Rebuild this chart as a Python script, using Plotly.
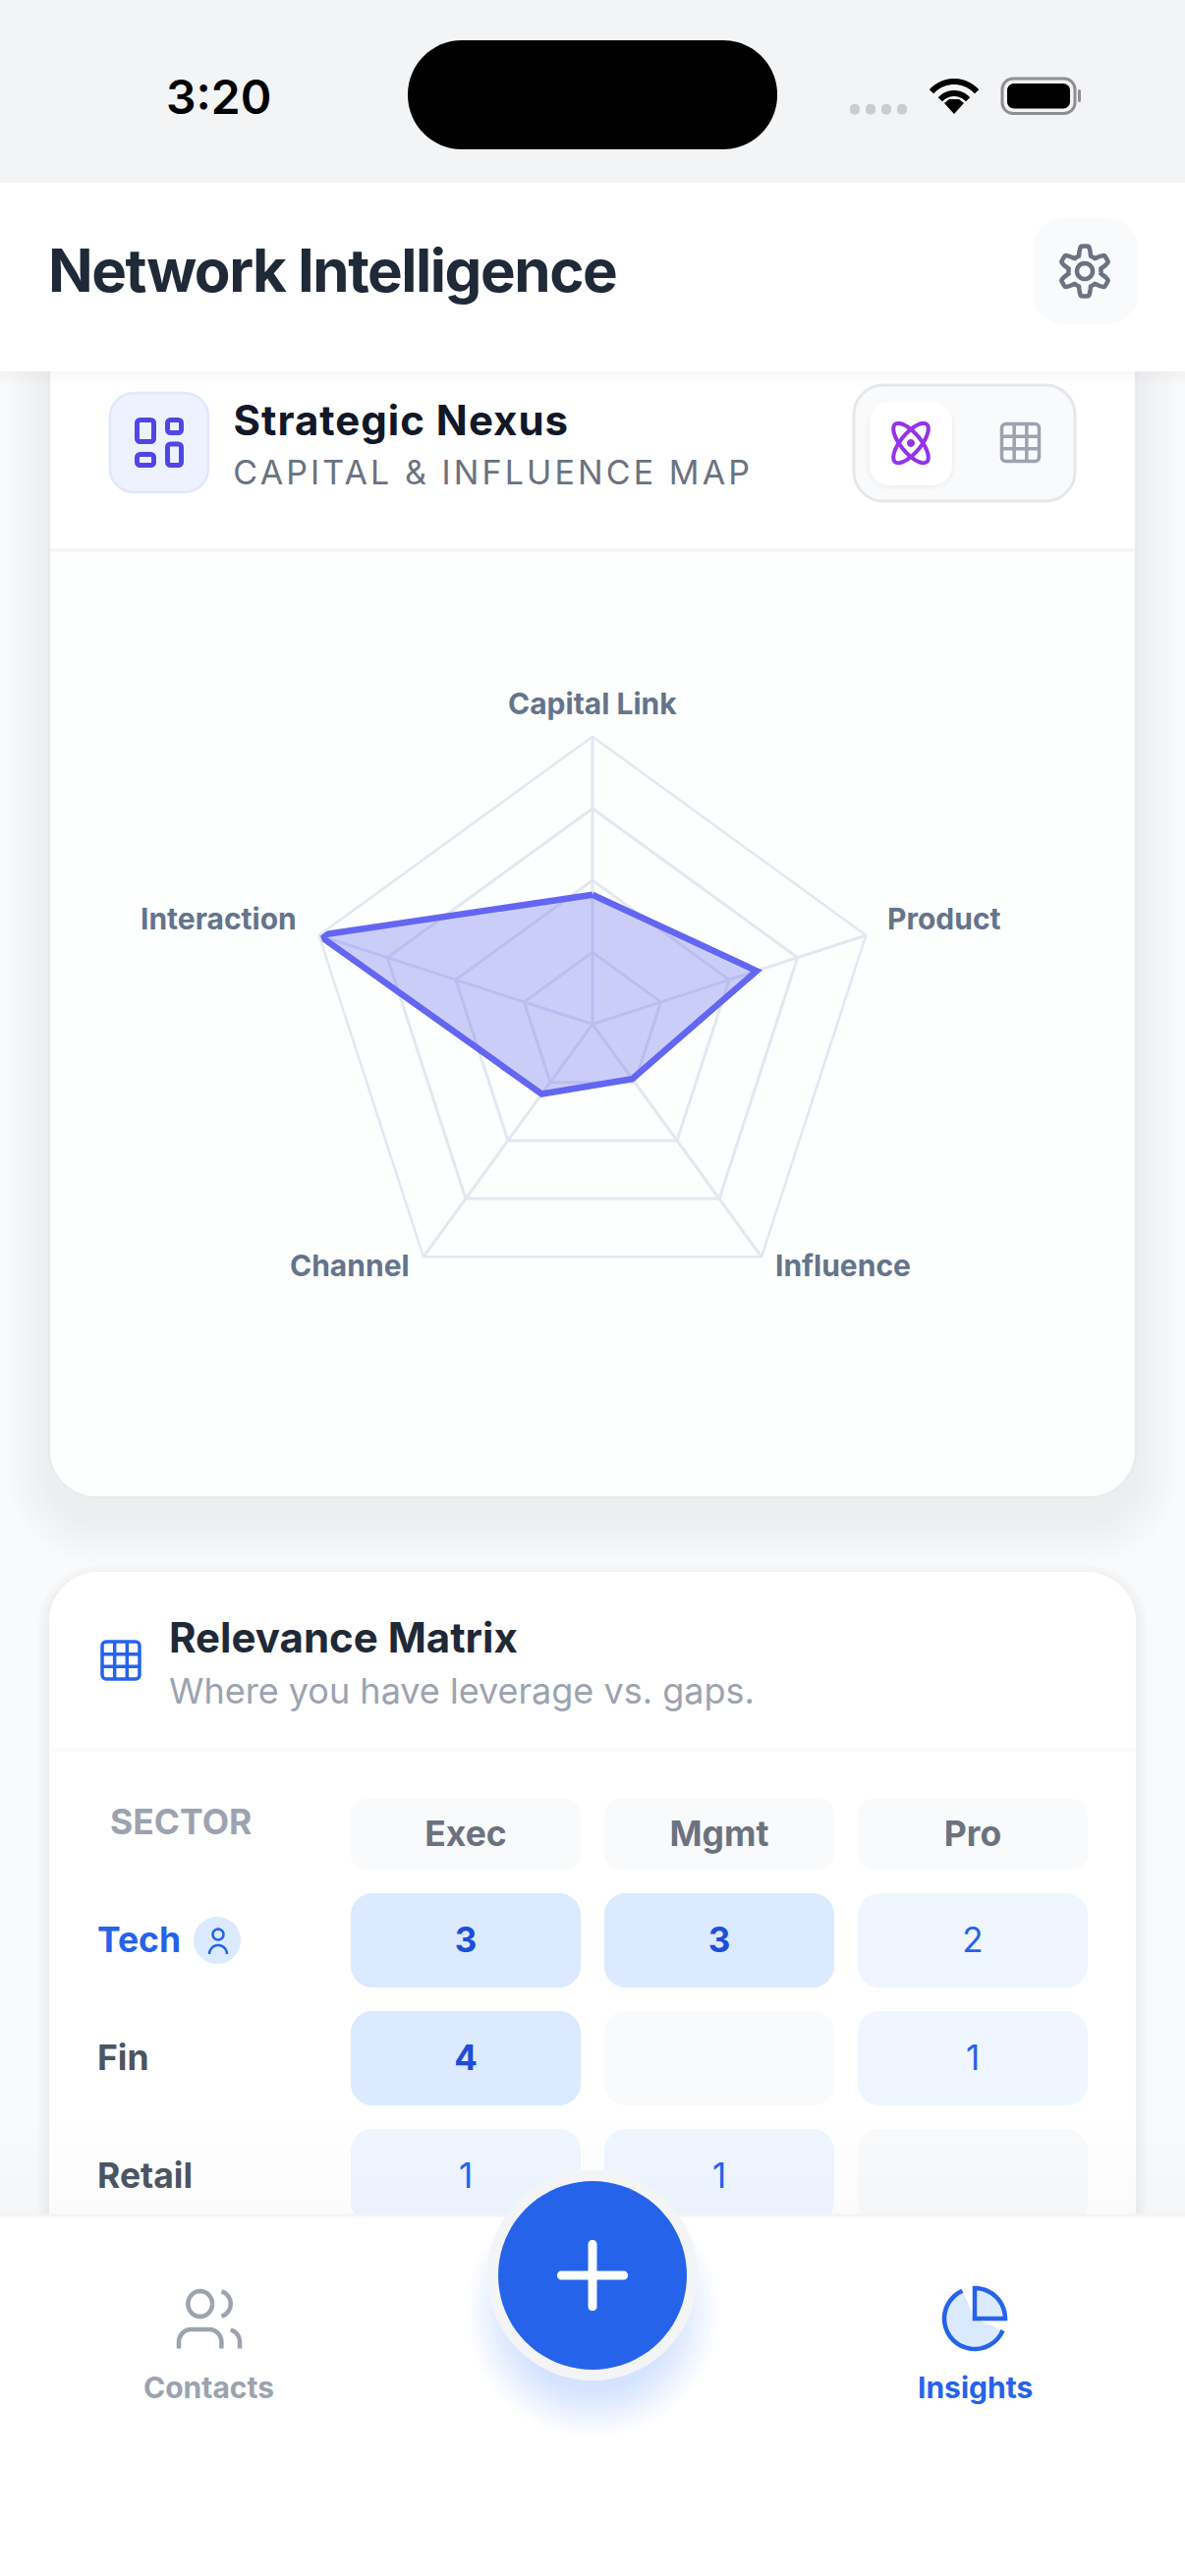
from __future__ import annotations

import json
import math

import plotly.graph_objects as go

WIDTH = 1206
HEIGHT = 2622
FONT = "Inter"

# radar values (outer ring = 100)
RADAR_AXES = ["Capital Link", "Product", "Influence", "Channel", "Interaction"]
RADAR_VALUES = [45, 60, 23.5, 30, 100]
RADAR_TICKS = [25, 50, 75, 100]

# relevance matrix
MATRIX_COLS = ["Exec", "Mgmt", "Pro"]
MATRIX_ROWS = ["Tech", "Fin", "Retail"]
TECH_COUNTS = [3, 3, 2]
FIN_COUNTS = [4, None, 1]
RETAIL_COUNTS = [1, 1, None]

# pixel mapping of the radar and the matrix axes
RADAR_CX, RADAR_CY, RADAR_R = 603, 1042.5, 292.7
COL0_X, COL_PITCH = 474, 258
ROW0_Y, ROW_PITCH = 1975, 120
HEADER_ROW = -0.9
TEXT_NUDGE = 3 / ROW_PITCH

# where each radar label sits relative to its outer vertex
RADAR_LABEL_OFFSETS = [(0, -34, "center"), (20, -17, "left"), (12, 9, "left"), (-12, 9, "right"), (-21, -17, "right")]

# plotly fonts have no tracking, applied in px to the finished svg text below
LETTER_SPACING = {
    "Network Intelligence": -1.5,
    "Strategic Nexus": 1,
    "CAPITAL & INFLUENCE MAP": 3.1,
}

shapes = []
annotations = []


def rrect(x0, y0, x1, y1, r):
    k = r * 0.45
    return (
        f"M{x0 + r},{y0} L{x1 - r},{y0} C{x1 - k},{y0} {x1},{y0 + k} {x1},{y0 + r} "
        f"L{x1},{y1 - r} C{x1},{y1 - k} {x1 - k},{y1} {x1 - r},{y1} "
        f"L{x0 + r},{y1} C{x0 + k},{y1} {x0},{y1 - k} {x0},{y1 - r} "
        f"L{x0},{y0 + r} C{x0},{y0 + k} {x0 + k},{y0} {x0 + r},{y0} Z"
    )


def poly(points, close=False):
    path = "M" + " L".join(f"{x:.2f},{y:.2f}" for x, y in points)
    return path + " Z" if close else path


def arc(cx, cy, r, a0, a1, n=24):
    pts = []
    for i in range(n + 1):
        a = math.radians(a0 + (a1 - a0) * i / n)
        pts.append((cx + r * math.cos(a), cy + r * math.sin(a)))
    return pts


def add(path, fill="rgba(0,0,0,0)", line=None, width=0, layer="below", xref="x", yref="y"):
    shapes.append(
        dict(
            type="path",
            path=path,
            fillcolor=fill,
            line=dict(color=line or "rgba(0,0,0,0)", width=width),
            layer=layer,
            xref=xref,
            yref=yref,
        )
    )


def label(text, x, y, size, color, weight=400, anchor="left"):
    # tracked text grows around its centre, so keep the left edge where it was
    x += LETTER_SPACING.get(text, 0) * len(text) / 2
    annotations.append(
        dict(
            text=text,
            x=x,
            y=y,
            xref="x",
            yref="y",
            xanchor=anchor,
            yanchor="middle",
            showarrow=False,
            font=dict(family=FONT, size=size, color=color, weight=weight),
        )
    )


def grid_icon(cx, cy, size, color, width):
    half = size / 2
    add(rrect(cx - half, cy - half, cx + half, cy + half, 4), line=color, width=width)
    for f in (-1 / 6, 1 / 6):
        add(poly([(cx + f * size, cy - half), (cx + f * size, cy + half)]), line=color, width=width)
        add(poly([(cx - half, cy + f * size), (cx + half, cy + f * size)]), line=color, width=width)


def soft_shadow(x0, y0, x1, y1, r, spread, offset, alpha, steps=12):
    for i in range(steps):
        s = spread * (1 - i / steps)
        add(rrect(x0 - s, y0 - s + offset, x1 + s, y1 + s + offset, r + s), fill=f"rgba(17,24,39,{alpha})")


# page background and the first card
add(f"M0,0 L{WIDTH},0 L{WIDTH},{HEIGHT} L0,{HEIGHT} Z", fill="#f9fafb")
soft_shadow(50, 300, 1156, 1524, 48, 44, 24, 0.005)
add(rrect(50, 300, 1156, 1524, 48), fill="#fdfefe", line="#e8eaee", width=2)
add("M51,340 L1155,340 L1155,558 L51,558 Z", fill="#ffffff")
add("M51,560 L1155,560", line="#f1f3f5", width=3)

# strategic nexus header
add(rrect(112, 400, 212, 501, 24), fill="#eef2ff", line="#e0e7ff", width=2.5)
boxes = [
    (139.5, 427.5, 156.5, 449.5, 3),
    (170.5, 427.5, 184.5, 440.5, 3),
    (170.5, 452, 184.5, 473.5, 3),
    (139.5, 462.5, 156.5, 473.5, 3),
]
for box in boxes:
    add(rrect(*box), line="#4f46e5", width=5)
label("Strategic Nexus", 235.5, 427, 42, "#111827", 700)
label("CAPITAL & INFLUENCE MAP", 235, 480, 34, "#6b7280", 400)

# toggle
add(rrect(869, 392, 1094, 510, 30), fill="#f9fafb", line="#e5e7eb", width=3)
for i in range(5):
    add(rrect(885 - 4 + i, 409 + i, 969 + 4 - i, 494 + 5 - i, 22), fill="rgba(17,24,39,0.007)")
add(rrect(885, 409, 969, 494, 20), fill="#ffffff")
for rot in (-40, 40):
    pts = []
    for i in range(41):
        t = 2 * math.pi * i / 40
        ex, ey = 10 * math.cos(t), 25 * math.sin(t)
        c, s = math.cos(math.radians(rot)), math.sin(math.radians(rot))
        pts.append((927 + ex * c - ey * s, 451 + ex * s + ey * c))
    add(poly(pts, True), line="#9333ea", width=4)
add(poly(arc(927, 451, 4, 0, 360), True), fill="#9333ea")
grid_icon(1038.5, 450.5, 38, "#9ca3af", 3.5)

# second card
soft_shadow(50, 1600, 1156, 2400, 48, 12, 4, 0.002)
add(rrect(50, 1600, 1156, 2400, 50), fill="#ffffff")
add("M51,1781 L1155,1781", line="#f9fafb", width=4)
grid_icon(123, 1690, 38, "#2563eb", 3.5)
label("Relevance Matrix", 170, 1666, 42, "#1f2937", 700)
label("Where you have leverage vs. gaps.", 170, 1721, 36, "#9ca3af", 400)
label("SECTOR", 110, 1854, 35.5, "#9ca3af", 700)

# matrix cells, placed through the second pair of axes
CELL_W = 234 / COL_PITCH
CELL_H = 96 / ROW_PITCH
HEAD_H = 72 / ROW_PITCH


def cell_path(col, row, height, rx=22):
    x0, x1 = col - CELL_W / 2, col + CELL_W / 2
    y0, y1 = row - height / 2, row + height / 2
    dx, dy = rx / COL_PITCH, rx / ROW_PITCH
    kx, ky = dx * 0.45, dy * 0.45
    return (
        f"M{x0 + dx},{y0} L{x1 - dx},{y0} C{x1 - kx},{y0} {x1},{y0 + ky} {x1},{y0 + dy} "
        f"L{x1},{y1 - dy} C{x1},{y1 - ky} {x1 - kx},{y1} {x1 - dx},{y1} "
        f"L{x0 + dx},{y1} C{x0 + kx},{y1} {x0},{y1 - ky} {x0},{y1 - dy} "
        f"L{x0},{y0 + dy} C{x0},{y0 + ky} {x0 + kx},{y0} {x0 + dx},{y0} Z"
    )


strong_x, strong_y, strong_text = [], [], []
light_x, light_y, light_text = [], [], []
for c in range(len(MATRIX_COLS)):
    add(cell_path(c, HEADER_ROW, HEAD_H, 16), fill="#f9fafb", xref="x2", yref="y2")
for r, counts in enumerate([TECH_COUNTS, FIN_COUNTS, RETAIL_COUNTS]):
    for c, value in enumerate(counts):
        if value is None:
            fill = "#f9fafb"
        elif value >= 3:
            fill = "#dbeafe"
            strong_x.append(c), strong_y.append(r + TEXT_NUDGE), strong_text.append(str(value))
        else:
            fill = "#eff6ff"
            light_x.append(c), light_y.append(r + TEXT_NUDGE), light_text.append(str(value))
        add(cell_path(c, r, CELL_H), fill=fill, xref="x2", yref="y2")

# slight fade above the nav bar
for i in range(10):
    y = 2254 - 10 * i
    add(f"M0,{y - 10} L{WIDTH},{y - 10} L{WIDTH},{y} L0,{y} Z", fill=f"rgba(17,24,39,{0.003 * (10 - i) / 2:.4f})")

# tech badge
add(rrect(197, 1951, 245, 1999, 24), fill="#dbeafe")
add(poly(arc(222, 1969, 5.5, 0, 360), True), line="#2563eb", width=2.5)
add(poly(arc(222, 1989, 9, 180, 360)), line="#2563eb", width=2.5)

# app header over the scrolled content
for i in range(6):
    add(f"M0,378 L{WIDTH},378 L{WIDTH},{392 - 2 * i} L0,{392 - 2 * i} Z", fill="rgba(17,24,39,0.003)")
add(f"M0,186 L{WIDTH},186 L{WIDTH},378 L0,378 Z", fill="#ffffff")
label("Network Intelligence", 46.5, 275, 60, "#1f2937", 700)
add(rrect(1051, 222, 1158, 330, 32), fill="#f9fafb")
gear = []
for i in range(181):
    t = 2 * math.pi * i / 180
    wave = max(-1.0, min(1.0, 1.7 * math.cos(6 * t)))
    rad = 21 + 4.5 * wave
    gear.append((1104 + rad * math.sin(t), 276 - rad * math.cos(t)))
add(poly(gear, True), line="#6b7280", width=4.5)
add(poly(arc(1104, 276, 8, 0, 360), True), line="#6b7280", width=4.5)

# status bar
add(f"M0,0 L{WIDTH},0 L{WIDTH},186 L0,186 Z", fill="#f3f4f6")
add(rrect(415, 41, 791, 152, 55), fill="#000000")
label("3:20", 222, 98, 48, "#000000", 600, "center")
for x in (865, 881, 897, 913):
    add(rrect(x, 106, x + 10, 116.5, 4), fill="#c9ccd1")
for rad, w in ((31, 6), (19, 6)):
    add(poly(arc(971, 114, rad, 222, 318)), line="#000000", width=w)
add(poly([(971, 116), (961, 105), (966, 101), (976, 101), (981, 105)], True), fill="#000000")
add(rrect(1020, 80, 1094, 115.5, 11), line="#8e8e93", width=3)
add(rrect(1025, 85, 1089, 110.5, 7), fill="#000000")
add(rrect(1097, 91, 1100, 104, 1.5), fill="#8e8e93")

# nav bar and floating button sit on top of the matrix
add(f"M0,2254 L{WIDTH},2254 L{WIDTH},{HEIGHT} L0,{HEIGHT} Z", fill="#ffffff", layer="above")
add(f"M0,2255 L{WIDTH},2255", line="#f3f4f6", width=3, layer="above")
for i in range(14):
    rad = 128 - 3.5 * i
    add(poly(arc(603, 2352, rad, 0, 360, 60), True), fill="rgba(37,99,235,0.017)", layer="above")
add(poly(arc(603, 2316, 107, 0, 360, 80), True), fill="#f3f4f6", layer="above")
add(poly(arc(603, 2316, 96, 0, 360, 80), True), fill="#2563eb", layer="above")
add(rrect(567, 2311.5, 639, 2320.5, 4), fill="#ffffff", layer="above")
add(rrect(598.5, 2280, 607.5, 2352, 4), fill="#ffffff", layer="above")


def ux(u):
    return 182 + (u - 2) * 3.1


def uy(u):
    return 2332 + (u - 3) * 3.25


def users(points):
    return poly([(ux(a), uy(b)) for a, b in points])


gray = "#9ca3af"
add(users([(16, 21)] + arc(12, 19, 4, 0, -90) + arc(6, 19, 4, -90, -180) + [(2, 21)]), line=gray, width=4.5, layer="above")
add(users(arc(9, 7, 4, 0, 360)), line=gray, width=4.5, layer="above")
add(users([(22, 21)] + arc(18, 19, 4, 0, -75)), line=gray, width=4.5, layer="above")
add(users(arc(15, 7, 4, -75, 75)), line=gray, width=4.5, layer="above")


def pie(u, v):
    return (961 + (u - 2) * 3.1, 2329 + (v - 2) * 3.1)


add(poly([pie(a, b) for a, b in [(12, 12)] + arc(12, 12, 10, 23, 246)], True), fill="#dbeafe", layer="above")
add(poly([pie(a, b) for a, b in arc(12, 12, 10, 23, 246)]), line="#2563eb", width=4.5, layer="above")
add(poly([pie(a, b) for a, b in [(12, 12)] + arc(12, 12, 10, -90, 0)], True), fill="#dbeafe", line="#2563eb", width=4.5, layer="above")
label("Contacts", 212, 2430, 30, "#9ca3af", 700, "center")
label("Insights", 992, 2430, 30, "#2563eb", 700, "center")

# radar labels hang off the outer vertices
for i, (name, (dx, dy, anchor)) in enumerate(zip(RADAR_AXES, RADAR_LABEL_OFFSETS)):
    angle = 2 * math.pi * i / len(RADAR_AXES)
    vx = RADAR_CX + RADAR_R * math.sin(angle)
    vy = RADAR_CY - RADAR_R * math.cos(angle)
    label(name, vx + dx, vy + dy, 30, "#64748b", 700, anchor)

fig = go.Figure()

# keeps the pixel axes alive for shapes and labels
fig.add_trace(go.Scatter(x=[0], y=[0], mode="none", xaxis="x", yaxis="y", showlegend=False))

fig.add_trace(
    go.Scatter(
        x=list(range(len(MATRIX_COLS))),
        y=[HEADER_ROW + TEXT_NUDGE] * len(MATRIX_COLS),
        text=MATRIX_COLS,
        mode="text",
        textfont=dict(family=FONT, size=35.5, color="#6b7280", weight=700),
        xaxis="x2",
        yaxis="y2",
        showlegend=False,
    )
)
fig.add_trace(
    go.Scatter(
        x=strong_x,
        y=strong_y,
        text=strong_text,
        mode="text",
        textfont=dict(family=FONT, size=35, color="#1d4ed8", weight=700),
        xaxis="x2",
        yaxis="y2",
        showlegend=False,
    )
)
fig.add_trace(
    go.Scatter(
        x=light_x,
        y=light_y,
        text=light_text,
        mode="text",
        textfont=dict(family=FONT, size=35, color="#2563eb", weight=400),
        xaxis="x2",
        yaxis="y2",
        showlegend=False,
    )
)
for r, name in enumerate(MATRIX_ROWS):
    fig.add_trace(
        go.Scatter(
            x=[(99 - COL0_X) / COL_PITCH],
            y=[r + TEXT_NUDGE],
            text=[name],
            mode="text",
            textposition="middle right",
            textfont=dict(family=FONT, size=35.5, color="#2563eb" if r == 0 else "#4b5563", weight=700),
            xaxis="x2",
            yaxis="y2",
            showlegend=False,
        )
    )

fig.add_trace(
    go.Scatterpolar(
        r=RADAR_VALUES + RADAR_VALUES[:1],
        theta=RADAR_AXES + RADAR_AXES[:1],
        mode="lines",
        fill="toself",
        fillcolor="rgba(99,102,241,0.32)",
        line=dict(color="#6366f1", width=6.5),
        showlegend=False,
    )
)

fig.update_layout(
    width=WIDTH,
    height=HEIGHT,
    margin=dict(l=0, r=0, t=0, b=0),
    paper_bgcolor="#f9fafb",
    plot_bgcolor="rgba(0,0,0,0)",
    hovermode=False,
    showlegend=False,
    font=dict(family=FONT),
    shapes=shapes,
    annotations=annotations,
    xaxis=dict(range=[0, WIDTH], domain=[0, 1], visible=False, fixedrange=True),
    yaxis=dict(range=[HEIGHT, 0], domain=[0, 1], visible=False, fixedrange=True),
    xaxis2=dict(
        range=[-COL0_X / COL_PITCH, (WIDTH - COL0_X) / COL_PITCH],
        domain=[0, 1],
        visible=False,
        fixedrange=True,
        overlaying="x",
        anchor="y2",
    ),
    yaxis2=dict(
        range=[(HEIGHT - ROW0_Y) / ROW_PITCH, -ROW0_Y / ROW_PITCH],
        domain=[0, 1],
        visible=False,
        fixedrange=True,
        overlaying="y",
        anchor="x2",
    ),
    polar=dict(
        domain=dict(
            x=[(RADAR_CX - RADAR_R) / WIDTH, (RADAR_CX + RADAR_R) / WIDTH],
            y=[1 - (RADAR_CY + RADAR_R) / HEIGHT, 1 - (RADAR_CY - RADAR_R) / HEIGHT],
        ),
        bgcolor="rgba(0,0,0,0)",
        gridshape="linear",
        radialaxis=dict(
            range=[0, 100],
            tickvals=RADAR_TICKS,
            showticklabels=False,
            ticks="",
            showline=False,
            gridcolor="#e2e8f0",
            gridwidth=2.5,
        ),
        angularaxis=dict(
            categoryorder="array",
            categoryarray=RADAR_AXES,
            direction="clockwise",
            rotation=90,
            ticks="",
            showticklabels=False,
            showline=True,
            linecolor="#e2e8f0",
            linewidth=2.5,
            gridcolor="#e2e8f0",
            gridwidth=2.5,
        ),
    ),
)

post_script = (
    "document.body.style.margin='0';"
    "var gd=document.getElementById('{plot_id}');"
    f"var sp={json.dumps(LETTER_SPACING)};"
    "var track=function(){gd.querySelectorAll('text').forEach(function(t){"
    "if(sp[t.textContent]){t.style.letterSpacing=sp[t.textContent]+'px';}});};"
    "track();setTimeout(track,0);"
)

fig.write_html("out.html", config={"displayModeBar": False}, post_script=post_script)
